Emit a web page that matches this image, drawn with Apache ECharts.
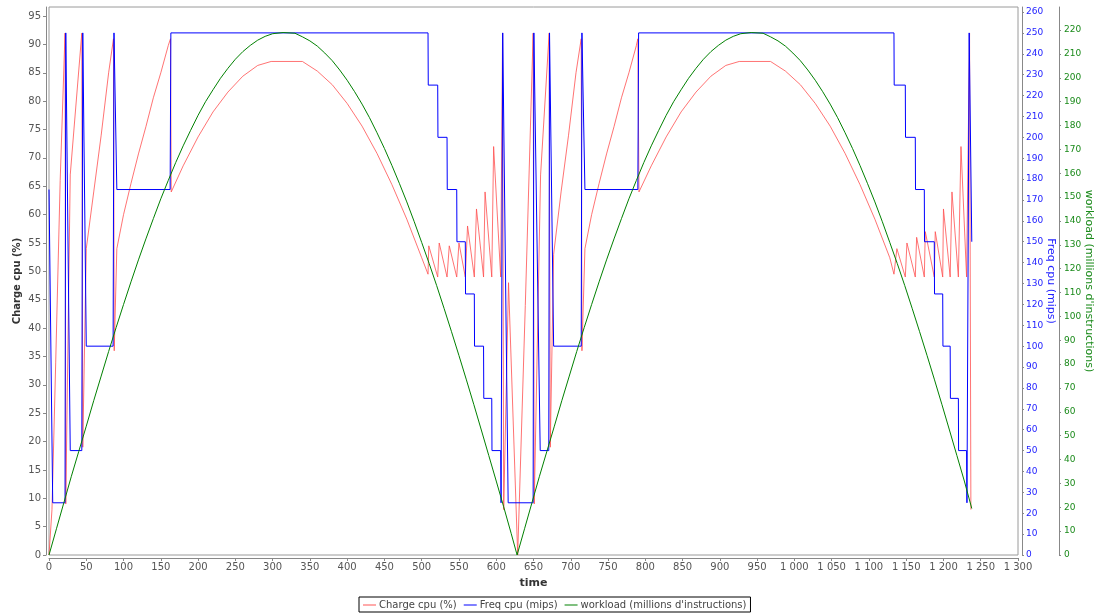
<!DOCTYPE html>
<html><head><meta charset="utf-8">
<script src="https://cdn.jsdelivr.net/npm/echarts@6/dist/echarts.min.js"></script>
<style>html,body{margin:0;padding:0;background:#fff}#c{width:1098px;height:614px}</style>
</head><body><div id="c"></div>
<script>
// ---- tick labels ----
const xTicks = [0,50,100,150,200,250,300,350,400,450,500,550,600,650,700,750,800,850,900,950,1000,1050,1100,1150,1200,1250,1300];
const chargeTicks = [0,5,10,15,20,25,30,35,40,45,50,55,60,65,70,75,80,85,90,95];
const freqTicks = [0,10,20,30,40,50,60,70,80,90,100,110,120,130,140,150,160,170,180,190,200,210,220,230,240,250,260];
const workTicks = [0,10,20,30,40,50,60,70,80,90,100,110,120,130,140,150,160,170,180,190,200,210,220];

// ---- series names ----
const seriesNames = ["Charge cpu (%)", "Freq cpu (mips)", "workload (millions d'instructions)"];

// ---- Charge cpu (%) ----
const chargeT = [0,4,9,15,21.5,22.5,28.5,44,45.3,50,60,70,80,86.5,87.5,91,100,110,120,130,140,150,160,163,164,180,200,220,240,260,280,298,340,360,380,400,420,440,460,480,500,508.5,
  509.5,521.5,523.5,534,537,547,550,558.5,561.5,570.6,573.5,583,585,594,596.5,606,608.5,610,616.5,628.8,
  639,649.5,651,659.5,671,672.5,677,687,697,707,714,715,719,728,738,748,758,768,778,788,790,791.5,808,828,848,868,888,908,926,968,988,1008,1028,1048,1068,1088,1108,1128,1133.6,
  1137.5,1148.8,1151,1162.2,1164,1174.3,1175.6,1187.7,1189,1199,1200,1209,1211.4,1220,1223.5,1231,1235,1236.8];
const chargeV = [0,8,34,66,92,9,67,92,19,54,64,74,85,91,36,54,60,65.5,70.7,75.5,80.6,85,89.8,91,64,68.6,73.7,78.1,81.6,84.4,86.3,87,87,85.3,82.9,79.6,75.6,70.8,65.3,59.2,52.4,49.5,
  54.5,49,55,49,54.5,49,55,49,58,49,61,49,64,49,72,49,92,8,48,0,
  44,92,9,67,92,19,53,64,74,85,91,36,54,60,65.5,70.7,75.5,80.6,85,89.8,91,64,68.6,73.7,78.1,81.6,84.4,86.3,87,87,85.3,82.9,79.6,75.6,70.8,65.3,59.2,52.4,49.5,
  54,49,55,49,56,49,57,49,57,49,61,49,64,49,72,49,92,8];

// ---- Freq cpu (mips) ----
const freqT = [0,5,21.5,22.5,28.5,44,45.3,50,86,87.2,91,162.5,163.5,
  508.5,508.8,521.5,521.8,534,534.3,547,547.3,558.5,558.8,570.6,570.9,583,583.3,594,594.3,606,606.5,608.7,616,
  649.5,650.5,659,670.5,671.5,677,714,715,719,790,791,
  1133.6,1133.9,1148.8,1149.1,1162.2,1162.5,1174.3,1174.6,1187.7,1188,1199,1199.3,1209,1209.3,1220,1220.3,1231,1231.5,1234.5,1238];
const freqV = [175,25,25,250,50,50,250,100,100,250,175,175,250,
  250,225,225,200,200,175,175,150,150,125,125,100,100,75,75,50,50,25,250,25,
  25,250,50,50,250,100,100,250,175,175,250,
  250,225,225,200,200,175,175,150,150,125,125,100,100,75,75,50,50,25,250,150];

// ---- workload (millions d'instructions) ----
const workT = [0,10,20,30,40,50,60,70,80,90,100,110,120,130,140,150,160,170,180,190,200,210,220,230,240,250,260,270,280,290,300,314,330,340,350,360,370,380,390,400,410,420,430,440,450,460,470,480,490,500,510,520,530,540,550,560,570,580,590,600,610,620,628,
  638,648,658,668,678,688,698,708,718,728,738,748,758,768,778,788,798,808,818,828,838,848,858,868,878,888,898,908,918,928,942,958,968,978,988,998,1008,1018,1028,1038,1048,1058,1068,1078,1088,1098,1108,1118,1128,1138,1148,1158,1168,1178,1188,1198,1208,1218,1228,1238];
const workV = [0,11,22,33,43.5,54,64.7,75,85.3,95.3,105,114.5,123.7,132.5,141,149.3,157,164.5,171.5,178,184.3,190,195,199.8,204,207.8,211,213.6,215.8,217.4,218.5,219,218.7,217.2,215.5,213.3,210.4,207.2,203.3,199,194.2,189,183.3,177,170.4,163.3,155.8,148,139.7,131,122.2,113,103.4,93.6,83.6,73.4,63,52.4,41.7,31,20.2,9.1,0,
  11,22,33,43.5,54,64.7,75,85.3,95.3,105,114.5,123.7,132.5,141,149.3,157,164.5,171.5,178,184.3,190,195,199.8,204,207.8,211,213.6,215.8,217.4,218.5,219,218.7,217.2,215.5,213.3,210.4,207.2,203.3,199,194.2,189,183.3,177,170.4,163.3,155.8,148,139.7,131,122.2,113,103.4,93.6,83.6,73.4,63,52.4,41.7,31,19.5];

const zip = (a, b) => a.map((t, i) => [t, b[i]]);
const FONT = 'DejaVu Sans';
const fmtX = v => v >= 1000 ? Math.floor(v / 1000) + ' ' + String(v % 1000).padStart(3, '0') : String(v);

const chart = echarts.init(document.getElementById('c'), null, {renderer: 'canvas'});
chart.setOption({
  animation: false,
  backgroundColor: '#fff',
  textStyle: {fontFamily: FONT},
  grid: {left: 49, right: 80, top: 7, bottom: 59, containLabel: false, outerBoundsMode: 'none',
         show: true, borderColor: '#9a9a9a', borderWidth: 1, backgroundColor: '#fff'},
  legend: {
    bottom: 2, left: 359, orient: 'horizontal',
    data: seriesNames.map(n => ({name: n, icon: 'rect'})),
    itemWidth: 13, itemHeight: 1, itemGap: 7,
    borderColor: '#000', borderWidth: 1, padding: [3, 4, 2, 4],
    textStyle: {fontFamily: FONT, fontSize: 10, color: '#444', padding: [0, 0, 0, -2]}
  },
  xAxis: {
    type: 'value', min: 0, max: 1300, interval: 50, offset: 3,
    axisLine: {show: true, onZero: false, lineStyle: {color: '#888'}},
    axisTick: {show: true, length: 3, lineStyle: {color: '#888'}},
    axisLabel: {fontFamily: FONT, fontSize: 10, color: '#555', margin: 4, formatter: fmtX, customValues: xTicks},
    splitLine: {show: false},
    name: 'time', nameLocation: 'middle', nameGap: 20, nameMoveOverlap: false,
    nameTextStyle: {fontFamily: FONT, fontSize: 11, fontWeight: 'bold', color: '#333'}
  },
  yAxis: [
    {
      type: 'value', min: 0, max: 96.6, position: 'left', offset: 3,
      axisLine: {show: true, onZero: false, lineStyle: {color: '#888'}},
      axisTick: {show: true, length: 3, lineStyle: {color: '#888'}, customValues: chargeTicks},
      axisLabel: {fontFamily: FONT, fontSize: 10, color: '#555', margin: 5, customValues: chargeTicks},
      splitLine: {show: false},
      name: 'Charge cpu (%)', nameLocation: 'middle', nameRotate: 90, nameGap: 24, nameMoveOverlap: false,
      nameTextStyle: {fontFamily: FONT, fontSize: 10, fontWeight: 'bold', color: '#333'}
    },
    {
      type: 'value', min: 0, max: 262.4, position: 'right', offset: 4,
      axisLine: {show: true, onZero: false, lineStyle: {color: '#888'}},
      axisTick: {show: true, length: 2, lineStyle: {color: '#888'}, customValues: freqTicks},
      axisLabel: {fontFamily: FONT, fontSize: 9, color: '#2222ff', margin: 4, customValues: freqTicks},
      splitLine: {show: false},
      name: 'Freq cpu (mips)', nameLocation: 'middle', nameRotate: -90, nameGap: 23, nameMoveOverlap: false,
      nameTextStyle: {fontFamily: FONT, fontSize: 11, color: '#2222ff'}
    },
    {
      type: 'value', min: 0, max: 229.7, position: 'right', offset: 41,
      axisLine: {show: true, onZero: false, lineStyle: {color: '#888'}},
      axisTick: {show: true, length: 2, lineStyle: {color: '#888'}, customValues: workTicks},
      axisLabel: {fontFamily: FONT, fontSize: 9, color: '#1a8a1a', margin: 5, customValues: workTicks},
      splitLine: {show: false},
      name: "workload (millions d'instructions)", nameLocation: 'middle', nameRotate: -90, nameGap: 24, nameMoveOverlap: false,
      nameTextStyle: {fontFamily: FONT, fontSize: 11, color: '#1a8a1a'}
    }
  ],
  series: [
    {name: seriesNames[0], type: 'line', yAxisIndex: 0, symbol: 'none', data: zip(chargeT, chargeV),
     lineStyle: {width: 1, color: '#ff5050', opacity: 0.8}, itemStyle: {color: '#ff5555'}, z: 2},
    {name: seriesNames[1], type: 'line', yAxisIndex: 1, symbol: 'none', data: zip(freqT, freqV),
     lineStyle: {width: 1, color: '#0000ff'}, itemStyle: {color: '#0000ff'}, z: 3},
    {name: seriesNames[2], type: 'line', yAxisIndex: 2, symbol: 'none', data: zip(workT, workV),
     lineStyle: {width: 1, color: '#008000'}, itemStyle: {color: '#008000'}, z: 4}
  ]
});
</script>
</body></html>
